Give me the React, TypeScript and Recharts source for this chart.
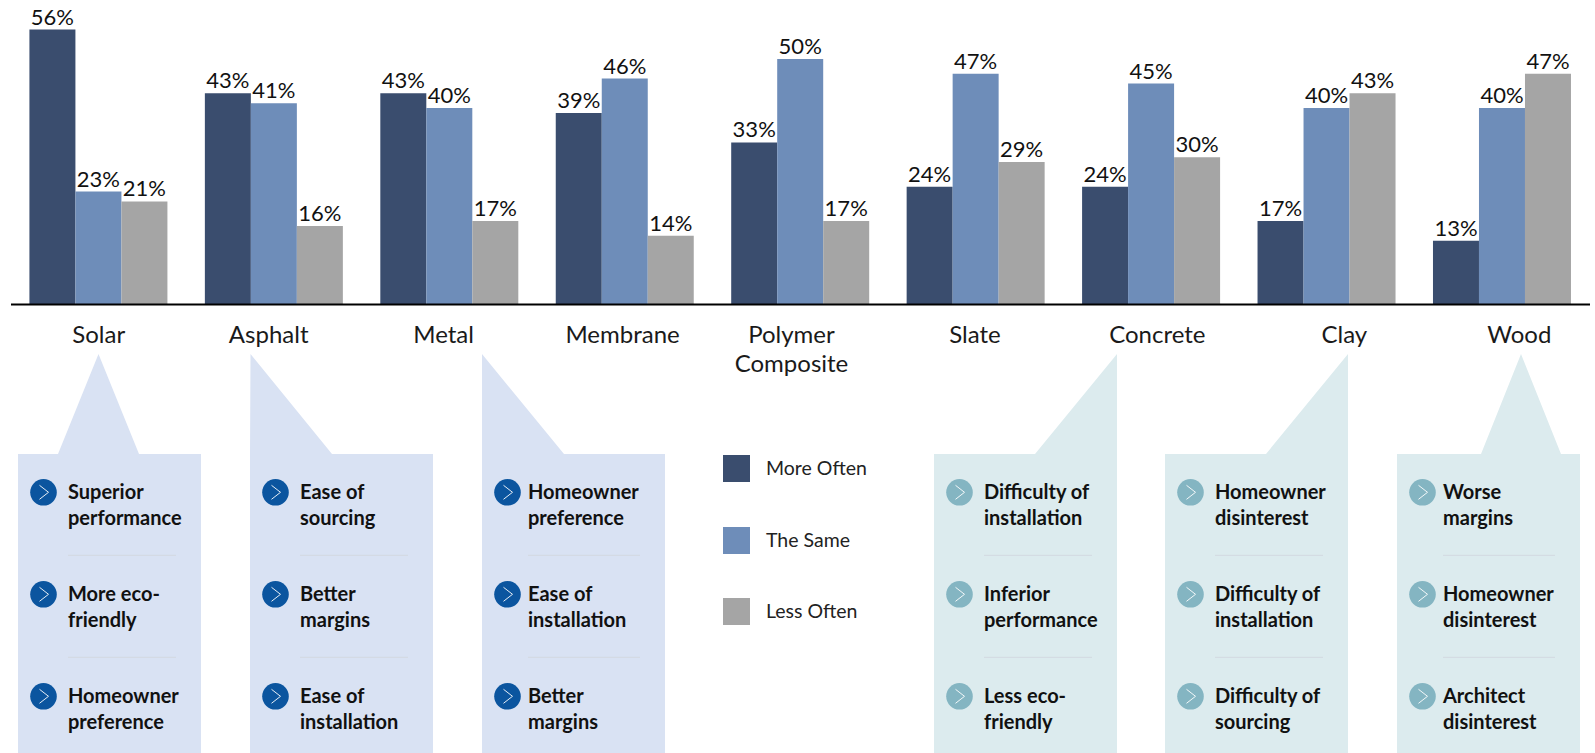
import React from "react";
import { BarChart, Bar, XAxis, YAxis, LabelList, Legend } from "recharts";

const categories = ["Solar", "Asphalt", "Metal", "Membrane", "Polymer Composite", "Slate", "Concrete", "Clay", "Wood"];
const moreOften = [56, 43, 43, 39, 33, 24, 24, 17, 13];
const theSame = [23, 41, 40, 46, 50, 47, 45, 40, 40];
const lessOften = [21, 16, 17, 14, 17, 29, 30, 43, 47];

const positiveReasons = [
  ["Superior performance", "More eco-friendly", "Homeowner preference"],
  ["Ease of sourcing", "Better margins", "Ease of installation"],
  ["Homeowner preference", "Ease of installation", "Better margins"],
];
const negativeReasons = [
  ["Difficulty of installation", "Inferior performance", "Less eco-friendly"],
  ["Homeowner disinterest", "Difficulty of installation", "Difficulty of sourcing"],
  ["Worse margins", "Homeowner disinterest", "Architect disinterest"],
];

const chartData = categories.map((name, i) => ({
  name,
  moreOften: moreOften[i],
  theSame: theSame[i],
  lessOften: lessOften[i],
}));

const FONT = "Lato, Carlito, sans-serif";
const NAVY = "#3A4D6E";
const STEEL = "#6E8DB9";
const GREY = "#A5A5A5";

// tick labels don't sit exactly under their groups
const tickNudge = [0, -5.5, -6, -2.5, -9, -1, 6, 17.5, 17];

// line breaks for the reason text
const reasonLines: Record<string, string[]> = {
  "Superior performance": ["Superior", "performance"],
  "More eco-friendly": ["More eco-", "friendly"],
  "Homeowner preference": ["Homeowner", "preference"],
  "Ease of sourcing": ["Ease of", "sourcing"],
  "Better margins": ["Better", "margins"],
  "Ease of installation": ["Ease of", "installation"],
  "Difficulty of installation": ["Difficulty of", "installation"],
  "Inferior performance": ["Inferior", "performance"],
  "Less eco-friendly": ["Less eco-", "friendly"],
  "Homeowner disinterest": ["Homeowner", "disinterest"],
  "Difficulty of sourcing": ["Difficulty of", "sourcing"],
  "Worse margins": ["Worse", "margins"],
  "Architect disinterest": ["Architect", "disinterest"],
};

const CategoryTick = (props: any) => {
  const { x, payload, index } = props;
  const words = payload.value === "Polymer Composite" ? ["Polymer", "Composite"] : [payload.value];
  return (
    <text x={x + tickNudge[index]} textAnchor="middle" fontFamily={FONT} fontSize={24} fill="#1a1a1a">
      {words.map((w: string, i: number) => (
        <tspan key={w} x={x + tickNudge[index]} y={343 + i * 28.5}>
          {w}
        </tspan>
      ))}
    </text>
  );
};

const legendRows = (props: any) => (
  <div>
    {props.payload.map((item: any) => (
      <div key={item.value} style={{ height: 71.5, display: "flex", fontFamily: FONT, fontSize: 19.5, color: "#222" }}>
        <div style={{ width: 27, height: 27, background: item.color, marginRight: 16 }} />
        <div style={{ lineHeight: "25px" }}>{item.value}</div>
      </div>
    ))}
  </div>
);

type CalloutProps = {
  left: number;
  apexX: number;
  baseFrom: number;
  baseTo: number;
  reasons: string[];
  fill: string;
  dot: string;
  inset?: number;
};

const Callout = ({ left, apexX, baseFrom, baseTo, reasons, fill, dot, inset = 50 }: CalloutProps) => {
  const top = 454;
  const width = 183;
  const outline = [
    [left, top],
    [baseFrom, top],
    [apexX, 354],
    [baseTo, top],
    [left + width, top],
    [left + width, 753],
    [left, 753],
  ]
    .map((p) => p.join(","))
    .join(" ");
  const textX = left + inset;
  const dotX = left + 25.5;
  return (
    <g>
      <polygon points={outline} fill={fill} />
      {reasons.map((reason, i) => {
        const cy = 492.3 + i * 102;
        return (
          <g key={reason}>
            <circle cx={dotX} cy={cy} r={13.3} fill={dot} />
            <polyline
              points={`${dotX - 4},${cy - 7} ${dotX + 5},${cy} ${dotX - 4},${cy + 7}`}
              fill="none"
              stroke="#fff"
              strokeWidth={0.9}
            />
            {reasonLines[reason].map((line, j) => (
              <text
                key={line}
                x={textX}
                y={cy + 7 + j * 26}
                fontFamily={FONT}
                fontWeight={700}
                fontSize={20}
                fill="#111"
              >
                {line}
              </text>
            ))}
            {i < 2 && <line x1={textX} x2={left + 158} y1={cy + 63} y2={cy + 63} stroke="#D3D9E0" strokeWidth={1} />}
          </g>
        );
      })}
    </g>
  );
};

export default function App() {
  const dataLabel = (v: any) => `${v}%`;
  const labelStyle = { fontFamily: FONT, fontSize: 22, fill: "#111" };
  return (
    <div style={{ position: "absolute", left: 0, top: 0, width: 1595, height: 753, background: "#fff", overflow: "hidden" }}>
      <svg width={1595} height={753} style={{ position: "absolute", left: 0, top: 0 }}>
        <Callout left={18} apexX={98.5} baseFrom={58} baseTo={139} reasons={positiveReasons[0]} fill="#D9E2F3" dot="#0B559F" />
        <Callout left={250} apexX={250.5} baseFrom={250} baseTo={332} reasons={positiveReasons[1]} fill="#D9E2F3" dot="#0B559F" />
        <Callout left={482} apexX={482} baseFrom={482} baseTo={564} reasons={positiveReasons[2]} fill="#D9E2F3" dot="#0B559F" inset={46} />
        <Callout left={934} apexX={1117} baseFrom={1035} baseTo={1117} reasons={negativeReasons[0]} fill="#DCEBEE" dot="#84B5C2" />
        <Callout left={1165} apexX={1348} baseFrom={1266} baseTo={1348} reasons={negativeReasons[1]} fill="#DCEBEE" dot="#84B5C2" />
        <Callout left={1397} apexX={1521} baseFrom={1481} baseTo={1561} reasons={negativeReasons[2]} fill="#DCEBEE" dot="#84B5C2" inset={46} />
      </svg>
      <div style={{ position: "absolute", left: 0, top: 0 }}>
        <BarChart
          width={1595}
          height={753}
          data={chartData}
          margin={{ top: 29.5, left: 11, right: 5, bottom: 388.5 }}
          barCategoryGap="10.5%"
          barGap={0}
        >
          <YAxis hide domain={[0, 56]} />
          <XAxis
            dataKey="name"
            interval={0}
            tickLine={false}
            axisLine={{ stroke: "#000", strokeWidth: 2 }}
            tick={<CategoryTick />}
            height={60}
          />
          <Legend
            layout="vertical"
            align="center"
            verticalAlign="middle"
            itemSorter={null}
            wrapperStyle={{ left: 723, top: 455, width: 180 }}
            content={legendRows}
          />
          <Bar dataKey="moreOften" name="More Often" fill={NAVY} isAnimationActive={false}>
            <LabelList dataKey="moreOften" position="top" formatter={dataLabel} style={labelStyle} />
          </Bar>
          <Bar dataKey="theSame" name="The Same" fill={STEEL} isAnimationActive={false}>
            <LabelList dataKey="theSame" position="top" formatter={dataLabel} style={labelStyle} />
          </Bar>
          <Bar dataKey="lessOften" name="Less Often" fill={GREY} isAnimationActive={false}>
            <LabelList dataKey="lessOften" position="top" formatter={dataLabel} style={labelStyle} />
          </Bar>
        </BarChart>
      </div>
    </div>
  );
}
